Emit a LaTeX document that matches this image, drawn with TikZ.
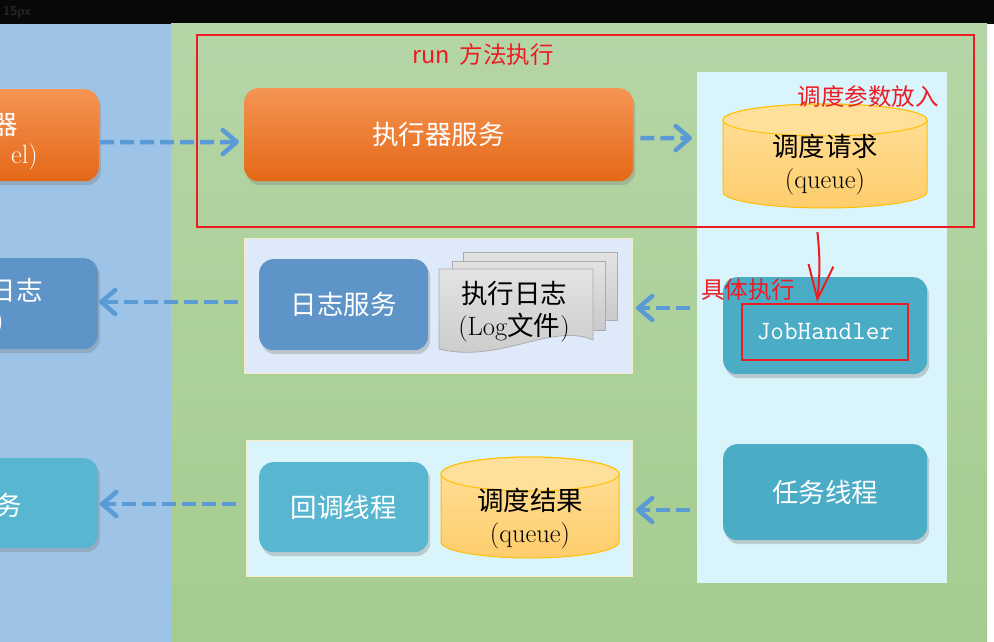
\documentclass[tikz,border=0pt]{standalone}
\usepackage{fontspec}
\newfontfamily\cjk{Noto Sans CJK SC}
\usetikzlibrary{positioning, arrows.meta, shadows}

\definecolor{tbblack}{RGB}{8,8,8}
\definecolor{leftblue}{RGB}{157,195,230}
\definecolor{greentop}{RGB}{181,213,166}
\definecolor{greenbot}{RGB}{165,204,143}
\definecolor{panelcyan}{RGB}{218,244,252}
\definecolor{panellav}{RGB}{222,234,250}
\definecolor{panelline}{RGB}{245,238,196}
\definecolor{orgtop}{RGB}{245,148,84}
\definecolor{orgbot}{RGB}{228,104,22}
\definecolor{logblue}{RGB}{94,148,200}
\definecolor{tealbox}{RGB}{75,172,198}
\definecolor{teallight}{RGB}{88,182,208}
\definecolor{cyltop}{RGB}{255,224,155}
\definecolor{cylbot}{RGB}{254,205,108}
\definecolor{cylline}{RGB}{255,192,0}
\definecolor{arrblue}{RGB}{91,155,213}
\definecolor{markred}{RGB}{237,28,36}

\newcommand{\boxfont}{\fontsize{26.5}{32}\selectfont}
\newcommand{\notefont}{\fontsize{23.5}{28}\selectfont\cjk}

\begin{document}
\begin{tikzpicture}[x=1pt, y=-1pt,
    rbox/.style={rounded corners=14pt, inner sep=0pt, text=white, font=\boxfont\cjk,
        drop shadow={shadow xshift=2pt, shadow yshift=-4pt, opacity=0.35}},
    panel/.style={draw=panelline, line width=1pt, inner sep=0pt, anchor=north west},
    flow/.style={arrblue, line width=4.5pt, dash pattern=on 14pt off 6pt,
        -{Straight Barb[length=14pt, width=24pt, round]}},
    redarr/.style={markred, line width=2pt, -{Straight Barb[length=34pt, width=25pt]}},
    note/.style={text=markred, font=\notefont, inner sep=0pt},
    cyl/.style={top color=cyltop, bottom color=cylbot, draw=cylline, line width=1pt},
    docsheet/.style={top color=gray!22, bottom color=gray!42, draw=gray!65, line width=0.8pt}]
    \useasboundingbox (0,0) rectangle (994,642);
    \clip (0,0) rectangle (994,642);
    \fill[white] (0,0) rectangle (994,642);
    \fill[tbblack] (0,0) rectangle (994,24);
    \node[anchor=west, inner sep=0pt, text=gray!30!black, font=\fontsize{13}{13}\selectfont\sffamily\bfseries] (tbsize) at (3,12) {15px};
    \fill[leftblue] (0,24) rectangle (171,642);
    \shade[top color=greentop, bottom color=greenbot] (171,24) rectangle (987,642);

    % panels
    \node[fill=panelcyan, inner sep=0pt, anchor=north west, minimum width=250pt, minimum height=511pt] (workcol) at (697,72) {};
    \node[panel, fill=panellav, minimum width=388pt, minimum height=135pt] (logpanel) at (244,238) {};
    \node[panel, fill=panelcyan, minimum width=386pt, minimum height=136pt] (cbpanel) at (246,440) {};
    \node[draw=markred, line width=2pt, inner sep=0pt, anchor=north west, minimum width=777pt, minimum height=192pt] (runframe) at (196,34) {};

    % left column, cut by the page edge
    \node[rbox, top color=orgtop, bottom color=orgbot, anchor=north east, minimum width=200pt, minimum height=92pt] (schedbox) at (99,89) {};
    \node[anchor=east, inner sep=0pt, text=white, font=\boxfont\cjk] (schedtxta) at (18,125) {器};
    \node[anchor=east, inner sep=0pt, text=white, font=\boxfont] (schedtxtb) at (38,157) {el)};
    \node[rbox, fill=logblue, anchor=north east, minimum width=200pt, minimum height=91pt] (logbox) at (98,258) {};
    \node[anchor=east, inner sep=0pt, text=white, font=\boxfont\cjk] (logtxta) at (43,290) {日志};
    \node[anchor=east, inner sep=0pt, text=white, font=\boxfont] (logtxtb) at (4,323) {)};
    \node[rbox, fill=teallight, anchor=north east, minimum width=200pt, minimum height=90pt] (resultbox) at (98,458) {};
    \node[anchor=east, inner sep=0pt, text=white, font=\boxfont\cjk] (resulttxt) at (22,505) {务};

    % executor
    \node[rbox, top color=orgtop, bottom color=orgbot, anchor=north west, minimum width=389pt, minimum height=93pt] (execsvc) at (244,88) {执行器服务};
    \node[rbox, fill=logblue, anchor=north west, minimum width=169pt, minimum height=91pt] (logsvc) at (259,259) {日志服务};
    \node[rbox, fill=teallight, anchor=north west, minimum width=169pt, minimum height=90pt] (cbthread) at (259,462) {回调线程};
    \node[rbox, fill=tealbox, anchor=north west, minimum width=204pt, minimum height=97pt] (jobbox) at (723,277) {};
    \node[rbox, fill=tealbox, anchor=north west, minimum width=204pt, minimum height=96pt] (taskthread) at (723,444) {任务线程};

    % queues
    \path[cyl] (723,120) -- (723,192) arc (180:0:102 and 16) -- (927,120) arc (0:-180:102 and 16) -- cycle;
    \filldraw[fill=cyltop, draw=cylline, line width=1pt] (825,120) ellipse (102 and 16);
    \path[cyl] (441,474) -- (441,542) arc (180:0:89 and 16) -- (619,474) arc (0:-180:89 and 17) -- cycle;
    \filldraw[fill=cyltop, draw=cylline, line width=1pt] (530,474) ellipse (89 and 17);
    \node[align=center, inner sep=0pt, font=\boxfont] (schedreq) at (825,165) {{\cjk 调度请求}\\(queue)};
    \node[align=center, inner sep=0pt, font=\boxfont] (schedres) at (530,519) {{\cjk 调度结果}\\(queue)};

    % log files
    \foreach \xa/\ya/\xb/\yb in {463/252/617/320, 452/261/605/330}
        \path[docsheet] (\xa,\ya) rectangle (\xb,\yb);
    \path[docsheet] (439,269) -- (593,269) -- (593,340) .. controls (552,322) and (500,364) .. (439,349) -- cycle;
    \node[align=center, inner sep=0pt, font=\boxfont] (execlog) at (514,312) {{\cjk 执行日志}\\(Log{\cjk 文件})};

    \node[draw=markred, line width=2pt, inner sep=0pt, minimum width=166pt, minimum height=56pt, text=white,
        font=\fontsize{26.5}{26.5}\ttfamily] (jobhandler) at (825,332) {JobHandler};

    % notes
    \node[note] (runlbl) at (483,55) {run\hspace{10pt}方法执行};
    \node[note] (paramlbl) at (868,97) {调度参数放入};
    \node[note] (dolbl) at (748,290) {具体执行};

    % connectors
    \draw[flow, shorten <=1pt, shorten >=5pt] ([yshift=-7pt]schedbox.east) -- (execsvc.west |- 0,142);
    \draw[flow, shorten <=7pt, shorten >=5pt] ([yshift=-3.5pt]execsvc.east) -- (workcol.west |- 0,138);
    \draw[flow, shorten <=7pt, shorten >=3pt] (workcol.west |- 0,308) -- (logpanel.east |- 0,308);
    \draw[flow, shorten <=6pt, shorten >=1pt] (logpanel.west |- 0,302) -- (logbox.east |- 0,302);
    \draw[flow, shorten <=7pt, shorten >=3pt] (workcol.west |- 0,510) -- (cbpanel.east |- 0,510);
    \draw[flow, shorten <=10pt, shorten >=2pt] (cbpanel.west |- 0,504) -- (resultbox.east |- 0,504);
    \coordinate (drophead) at ([xshift=-8pt]jobhandler.north);
    \draw[redarr, shorten <=4pt, shorten >=1pt] (runframe.south -| drophead) to[bend left=6] (drophead);
\end{tikzpicture}
\end{document}
